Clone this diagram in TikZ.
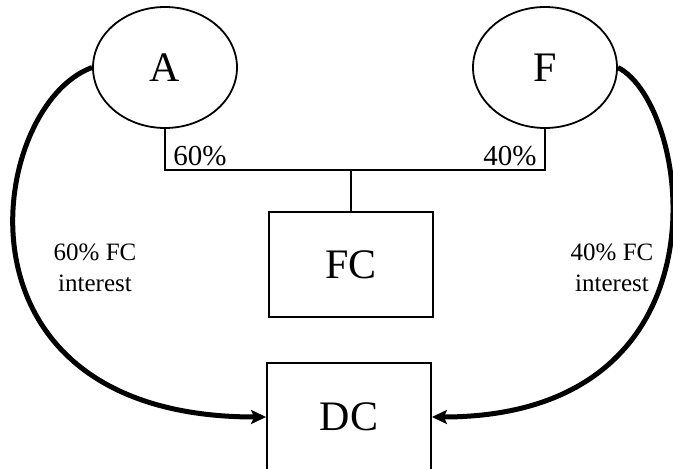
\documentclass[tikz,border=0pt]{standalone}
\usepackage{fontspec}
\setmainfont{Liberation Serif}
\usetikzlibrary{shapes.geometric,arrows.meta}

\begin{document}
\begin{tikzpicture}[
    x=0.5pt, y=-0.5pt,
    owner/.style={ellipse, draw=black, line width=0.9pt, minimum width=72pt, minimum height=60.5pt, font=\fontsize{21}{25}\selectfont},
    company/.style={rectangle, draw=black, line width=0.9pt, minimum width=82pt, minimum height=52.5pt, font=\fontsize{21}{25}\selectfont},
    share/.style={font=\fontsize{14.5}{17}\selectfont, inner sep=0pt},
    interest/.style={align=center, font=\fontsize{12.5}{15.5}\selectfont},
    link/.style={line width=0.9pt},
    flow/.style={line width=2.5pt, -{Stealth[length=7.5pt, width=7pt, inset=1.5pt]}}
]
\useasboundingbox (0,0) rectangle (673,469);

% Owners and companies
\node[owner] (A) at (165,67.5) {A};
\node[owner] (F) at (545,67.5) {F};
\node[company] (FC) at (351,264.5) {FC};
\node[company, minimum height=54pt] (DC) at (349,417) {DC};
\coordinate (join) at (351,170);

% Ownership lines
\draw[link] (A.south) |- (join) -| (F.south);
\draw[link] (join) -- (FC.north);
\node[share, anchor=base west] (pctA) at (173,166) {60\%};
\node[share, anchor=base east] (pctF) at (537,166) {40\%};

% Interest flows
\draw[flow] (A.west) .. controls (-12,105) and (-62,417) .. (DC.west);
\draw[flow] (F.east) .. controls (692,105) and (737,417) .. (DC.east);
\node[interest] (intA) at (95,268) {60\% FC\\interest};
\node[interest] (intF) at (612,268) {40\% FC\\interest};

\end{tikzpicture}
\end{document}
